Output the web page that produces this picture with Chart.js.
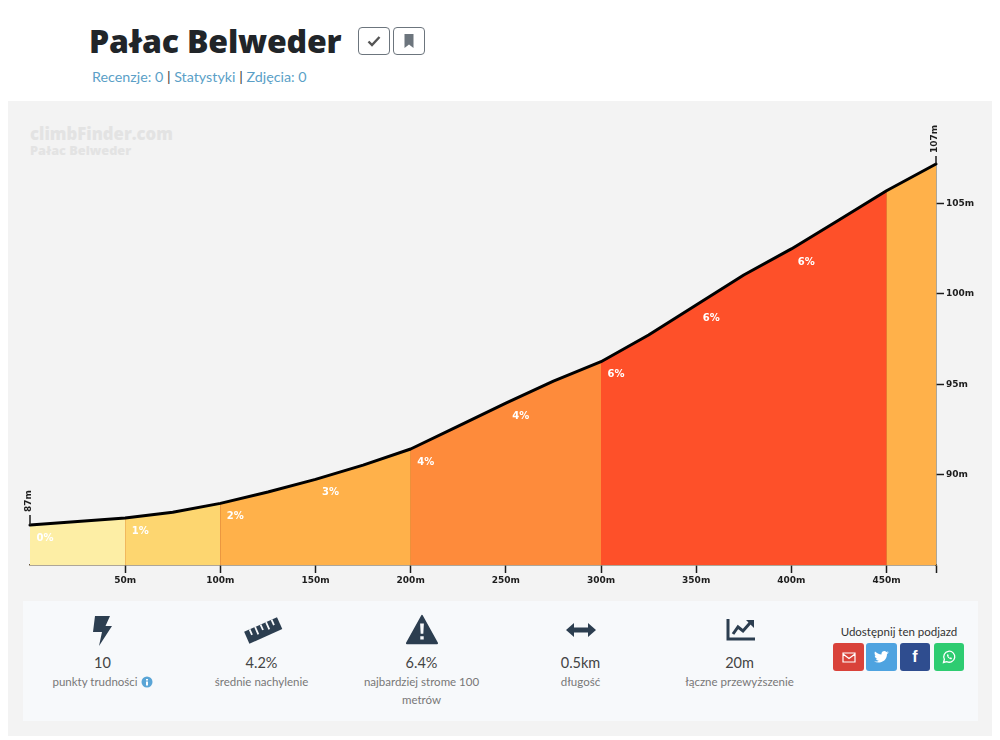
<!DOCTYPE html>
<html lang="pl">
<head>
<meta charset="utf-8">
<title>Pałac Belweder</title>
<script src="https://cdn.jsdelivr.net/npm/chart.js@4"></script>
<style>
  html, body { margin: 0; padding: 0; background: #fff; }
  body { width: 1000px; height: 740px; position: relative; overflow: hidden; font-family: Lato, sans-serif; }
  h1 { position: absolute; left: 89px; top: 20px; margin: 0; font: 800 32px/42px "Open Sans", sans-serif; color: #212529; letter-spacing: -0.18px; white-space: nowrap; }
  .btn { position: absolute; top: 27px; width: 30px; height: 26px; border: 1px solid #6c757d; border-radius: 4px; display: flex; align-items: center; justify-content: center; }
  .links { position: absolute; left: 92px; top: 68px; font-size: 14.3px; line-height: 18px; color: #333; white-space: nowrap; }
  .links a { color: #5b9fc7; text-decoration: none; }
  #panel { position: absolute; left: 8px; top: 101px; width: 984px; height: 635px; background: #f3f3f3; }
  #chartBox { position: absolute; left: 8px; top: 101px; width: 984px; height: 499px; }
  .mark1 { position: absolute; left: 30px; top: 124px; font: 800 16.7px/20px "Open Sans", sans-serif; color: #e3e3e3; }
  .mark2 { position: absolute; left: 30px; top: 143px; font: 800 12.7px/14px "Open Sans", sans-serif; color: #e3e3e3; }
  #stats { position: absolute; left: 23px; top: 601px; width: 955px; height: 120px; background: #f7f9fb; }
  .stat { position: absolute; top: 652px; width: 159px; text-align: center; }
  .stat .val { font-size: 14.5px; line-height: 21px; color: #444; }
  .stat .lab { font-size: 11.5px; line-height: 18px; color: #777; }
  .ico { position: absolute; top: 612px; }
  .share { position: absolute; left: 819px; top: 624px; width: 160px; text-align: center; font-size: 11.5px; line-height: 16px; color: #333; }
  .sbtn { position: absolute; top: 643px; height: 28px; border-radius: 3px; display: flex; align-items: center; justify-content: center; color: #fff; }
</style>
</head>
<body>
<h1>Pałac Belweder</h1>
<div class="btn" style="left:358px"><svg width="14" height="12" viewBox="0 0 14 12"><path d="M1.500 6.500 5 10 12.500 2" fill="none" stroke="#555" stroke-width="2.400"/></svg></div>
<div class="btn" style="left:393px"><svg width="12" height="14" viewBox="0 0 12 14"><path d="M1.500 0H10.500V14L6 10.500 1.500 14Z" fill="#6c757d"/></svg></div>
<div class="links"><a>Recenzje: 0</a> | <a>Statystyki</a> | <a>Zdjęcia: 0</a></div>

<div id="panel"></div>
<div class="mark1">climbFinder.com</div>
<div class="mark2">Pałac Belweder</div>
<div id="chartBox"><canvas id="profile"></canvas></div>

<div id="stats"></div>
<svg class="ico" style="left:90px" width="26" height="36" viewBox="0 0 26 36"><path d="M5 4H20L15.500 14H22L9 34 12 20H3Z" fill="#2c3e50"/></svg>
<svg class="ico" style="left:242px" width="42" height="36" viewBox="0 0 42 36"><g transform="rotate(-24 21 18)"><path d="M3 12H39V25H3Z" fill="#2c3e50"/><path d="M9 12V18M15 12V20M21 12V18M27 12V20M33 12V18" stroke="#f7f9fb" stroke-width="1.800"/></g></svg>
<svg class="ico" style="left:405px" width="34" height="36" viewBox="0 0 36 36"><path d="M18 3 34 32H2Z" fill="#2c3e50" stroke="#2c3e50" stroke-width="2" stroke-linejoin="round"/><path d="M16 11H20L19.400 22H16.600ZM16.200 24.500H19.800V28H16.200Z" fill="#f7f9fb"/></svg>
<svg class="ico" style="left:565px" width="32" height="36" viewBox="0 0 32 36"><path d="M1 18 9 11V15.500H23V11L31 18 23 25V20.500H9V25Z" fill="#2c3e50"/></svg>
<svg class="ico" style="left:725px" width="32" height="36" viewBox="0 0 32 36"><path d="M3 7V27H30" fill="none" stroke="#2c3e50" stroke-width="3"/><path d="M8 22 13 15 18 19 25 11" fill="none" stroke="#2c3e50" stroke-width="3"/><path d="M21 8H29V16Z" fill="#2c3e50"/></svg>

<div class="stat" style="left:23px"><div class="val">10</div><div class="lab">punkty trudności <svg width="12" height="12" viewBox="0 0 12 12" style="vertical-align:-2px"><circle cx="6" cy="6" r="5.500" fill="#5aa5d6"/><path d="M5 3H7V4.600H5ZM5 5.600H7V9.400H5Z" fill="#fff"/></svg></div></div>
<div class="stat" style="left:182px"><div class="val">4.2%</div><div class="lab">średnie nachylenie</div></div>
<div class="stat" style="left:342px"><div class="val">6.4%</div><div class="lab">najbardziej strome 100<br>metrów</div></div>
<div class="stat" style="left:501px"><div class="val">0.5km</div><div class="lab">długość</div></div>
<div class="stat" style="left:660px"><div class="val">20m</div><div class="lab">łączne przewyższenie</div></div>

<div class="share">Udostępnij ten podjazd</div>
<div class="sbtn" style="left:833px;width:31px;background:#d9423a"><svg width="14" height="11" viewBox="0 0 14 11"><path d="M1 1H13V10H1ZM1 2 7 6.500 13 2" fill="none" stroke="#fff" stroke-width="1.200"/></svg></div>
<div class="sbtn" style="left:866px;width:31px;background:#4ea3e0"><svg width="15" height="12" viewBox="0 0 15 12"><path d="M0 10.500C5 13 13 11 13 3L15 1.500 13 1.800 14.500 0.200 12.500 1C10.500-1 7 0.500 7.500 3.500 5 3.400 2.500 2 1 .5 0 2.500 1 4.500 2 5L.7 4.800C.8 6.200 2 7.500 3.400 8 3 8.100 2.400 8.100 2 8 2.500 9 3.500 9.600 4.800 9.700 3.500 10.500 2 10.800 0 10.500Z" fill="#fff"/></svg></div>
<div class="sbtn" style="left:900px;width:30px;background:#2f4d8f;font:700 16px/1 'Liberation Sans',sans-serif">f</div>
<div class="sbtn" style="left:934px;width:30px;background:#2ecc71"><svg width="14" height="14" viewBox="0 0 14 14"><path d="M1.500 12.500 2.400 9.300A5.500 5.500 0 1 1 4.700 11.600Z" fill="none" stroke="#fff" stroke-width="1.300"/><path d="M5 4.500C4.600 6.500 7 9.300 9.500 9.300L10 8 8.500 7.300 8 7.900C7.200 7.600 6.500 6.800 6.300 6.100L6.800 5.500 6.100 4.200Z" fill="#fff"/></svg></div>

<script>
// climb profile
const distances = [0, 25, 50, 75, 100, 125, 150, 175, 200, 225, 250, 275, 300, 325, 350, 375, 400, 425, 450, 476];
const elevations = [87.21, 87.41, 87.6, 87.92, 88.41, 89.04, 89.74, 90.53, 91.42, 92.69, 93.96, 95.18, 96.25, 97.73, 99.39, 101.05, 102.49, 104.09, 105.71, 107.19];

// coloured gradient bands
const bandStarts = [0, 50, 100, 200, 300, 450];
const bandEnds = [50, 100, 200, 300, 450, 476];
const bandColors = ["#fdeea5", "#fdd670", "#ffb14a", "#fe8b3b", "#fe5029", "#ffb14a"];

// percent labels, one every 50m
const gradeStarts = [0, 50, 100, 150, 200, 250, 300, 350, 400];
const gradeLabels = ["0%", "1%", "2%", "3%", "4%", "4%", "6%", "6%", "6%"];

const xTicks = [50, 100, 150, 200, 250, 300, 350, 400, 450, 476];
const yTicks = [90, 95, 100, 105];
const startLabel = "87m";
const endLabel = "107m";

const tickFont = { family: "DejaVu Sans", size: 9, weight: "bold" };
const inkColor = "#1d1d1d";

const toPoints = (from, to) =>
  distances
    .map((d, i) => ({ x: d, y: elevations[i] }))
    .filter((p) => p.x >= from && p.x <= to);

const bandDatasets = bandStarts.map((start, i) => ({
  label: "band " + i,
  data: toPoints(start, bandEnds[i]),
  backgroundColor: bandColors[i],
  borderWidth: 0,
  pointRadius: 0,
  fill: "start",
  order: 2,
}));

// grade text, end labels and their little ticks are not something the axes can do
const profileLabels = {
  id: "profileLabels",
  afterDatasetsDraw(chart) {
    const { ctx, scales } = chart;
    const { x: xs, y: ys } = scales;
    ctx.save();

    ctx.fillStyle = "#fff";
    ctx.font = "bold 10px 'DejaVu Sans'";
    ctx.textAlign = "center";
    ctx.textBaseline = "middle";
    gradeStarts.forEach((start, i) => {
      const elev = elevations[distances.indexOf(start)];
      ctx.fillText(gradeLabels[i], xs.getPixelForValue(start) + 15, ys.getPixelForValue(elev) + 13);
    });

    const ends = [
      [distances[0], elevations[0], startLabel, 10, -1],
      [distances[distances.length - 1], elevations[elevations.length - 1], endLabel, 8, -1],
    ];
    ends.forEach(([d, e, text, len, dx]) => {
      const px = xs.getPixelForValue(d);
      const py = ys.getPixelForValue(e);
      ctx.strokeStyle = inkColor;
      ctx.lineWidth = 1.5;
      ctx.beginPath();
      ctx.moveTo(px, py);
      ctx.lineTo(px, py - len);
      ctx.stroke();

      ctx.save();
      ctx.translate(px + dx, py - len - 3);
      ctx.rotate(-Math.PI / 2);
      ctx.fillStyle = inkColor;
      ctx.font = "bold 9px 'DejaVu Sans'";
      ctx.textAlign = "left";
      ctx.textBaseline = "middle";
      ctx.fillText(text, 0, 0);
      ctx.restore();
    });
    ctx.restore();
  },
};

new Chart(document.getElementById("profile"), {
  type: "line",
  data: {
    datasets: [
      {
        label: "Profil",
        data: toPoints(0, 476),
        borderColor: "#000",
        borderWidth: 3,
        borderCapStyle: "round",
        borderJoinStyle: "round",
        pointRadius: 0,
        fill: false,
        clip: false,
        order: 1,
      },
      ...bandDatasets,
      // darker fill underneath, shows through the seams between bands
      {
        label: "under",
        data: toPoints(0, 476),
        backgroundColor: "#d8752f",
        borderWidth: 0,
        pointRadius: 0,
        fill: "start",
        order: 3,
      },
    ],
  },
  options: {
    responsive: true,
    maintainAspectRatio: false,
    animation: false,
    layout: { padding: { left: 22, top: 63, right: 0, bottom: 0 } },
    plugins: { legend: { display: false }, tooltip: { enabled: false } },
    scales: {
      x: {
        type: "linear",
        min: 0,
        max: 476,
        afterBuildTicks: (scale) => {
          scale.ticks = xTicks.map((value) => ({ value }));
        },
        afterFit: (scale) => {
          scale.height = 35;
        },
        grid: { drawOnChartArea: false, tickColor: inkColor, tickWidth: 1.5, tickLength: 8 },
        border: { color: "#6b5a3f", width: 1.5 },
        ticks: {
          autoSkip: false,
          maxRotation: 0,
          padding: 2,
          color: inkColor,
          font: tickFont,
          callback: (value) => (value === 476 ? "" : value + "m"),
        },
      },
      y: {
        type: "linear",
        position: "right",
        min: 85,
        max: 107.19,
        afterBuildTicks: (scale) => {
          scale.ticks = yTicks.map((value) => ({ value }));
        },
        afterFit: (scale) => {
          scale.width = 56;
        },
        grid: { drawOnChartArea: false, tickColor: inkColor, tickWidth: 1.5, tickLength: 8 },
        border: { color: "#6b5a3f", width: 1.5 },
        ticks: {
          padding: 2,
          color: inkColor,
          font: tickFont,
          callback: (value) => value + "m",
        },
      },
    },
  },
  plugins: [profileLabels],
});
</script>
</body>
</html>
